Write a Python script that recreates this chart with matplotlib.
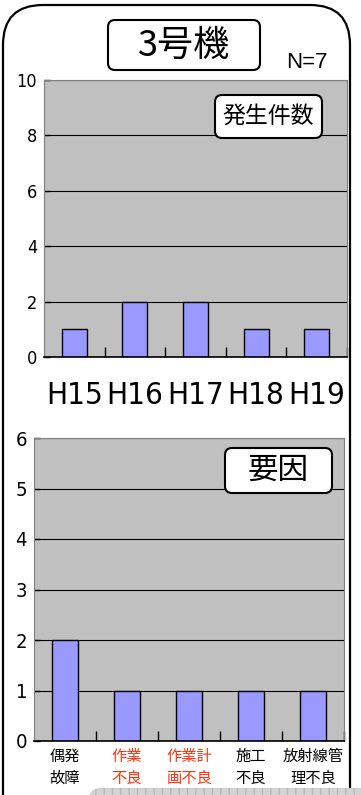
import matplotlib
matplotlib.use("Agg")
import matplotlib.pyplot as plt
from matplotlib.patches import FancyBboxPatch
import numpy as np

plt.rcParams['font.family'] = ['Noto Sans CJK JP', 'DejaVu Sans']

W, H = 361, 795

years = ["H15", "H16", "H17", "H18", "H19"]
counts = [1, 2, 2, 1, 1]

causes = ["偶発\n故障", "作業\n不良", "作業計\n画不良", "施工\n不良", "放射線管\n理不良"]
cause_counts = [2, 1, 1, 1, 1]
cause_colors = ["black", "#ff3311", "#ff3311", "black", "black"]

BAR = "#9999ff"
BG = "#c0c0c0"
NARROW = dict(family="DejaVu Sans", stretch="condensed")


def px_axes(fig, left, top, right, bottom):
    return fig.add_axes([left / W, 1 - bottom / H, (right - left) / W, (bottom - top) / H])


def style_bars(ax, n, ymax, step, ysize, ypad):
    ax.set_facecolor(BG)
    ax.set_xlim(-0.5, n - 0.5)
    ax.set_ylim(0, ymax)
    ax.set_yticks(np.arange(0, ymax + 1, step))
    ax.yaxis.grid(True, color="black", linewidth=0.8)
    ax.set_axisbelow(True)
    for s in ("left", "top", "right"):
        ax.spines[s].set_color("#808080")
        ax.spines[s].set_linewidth(0.8)
    ax.spines["bottom"].set_linewidth(1.2)
    ax.set_xticks(np.arange(n))
    ax.set_xticks(np.arange(n) + 0.5, minor=True)
    ax.tick_params(axis="x", which="major", length=0)
    ax.tick_params(axis="x", which="minor", direction="in", length=7, width=1)
    ax.tick_params(axis="y", direction="in", length=4, width=1, pad=ypad)
    for lab in ax.get_yticklabels():
        lab.set(**NARROW)
        lab.set_fontsize(ysize)


fig = plt.figure(figsize=(W / 100, H / 100), dpi=100)

# occurrences per year
ax1 = px_axes(fig, 44, 80, 347, 357)
ax1.bar(np.arange(len(years)), counts, width=0.41, color=BAR, edgecolor="black", linewidth=1)
style_bars(ax1, len(years), 10, 2, 13, 5)
ax1.set_xticklabels(years, fontsize=22.5, **NARROW)
ax1.tick_params(axis="x", which="major", pad=17)

# occurrences per cause
ax2 = px_axes(fig, 34, 438, 344, 741)
ax2.bar(np.arange(len(causes)), cause_counts, width=0.41, color=BAR, edgecolor="black", linewidth=1)
style_bars(ax2, len(causes), 6, 1, 14.5, 5)
ax2.set_xticklabels(causes, fontsize=11, linespacing=1.35)
ax2.tick_params(axis="x", which="major", pad=5)
for lab, c in zip(ax2.get_xticklabels(), cause_colors):
    lab.set_color(c)

# overlay in pixel units for frame and captions
ov = fig.add_axes([0, 0, 1, 1])
ov.set_xlim(0, W)
ov.set_ylim(0, H)
ov.axis("off")
ov.patch.set_alpha(0)


def box(x0, y0, x1, y1, r, lw, fc="white", ec="black", **kw):
    p = FancyBboxPatch((x0, H - y1), x1 - x0, y1 - y0,
                       boxstyle=f"round,pad=0,rounding_size={r}",
                       facecolor=fc, edgecolor=ec, linewidth=lw, **kw)
    ov.add_patch(p)
    return p


box(3, 5, 350, 900, 40, 1.6, fc="none")
box(88, 788, 420, 820, 14, 0, fc="#d4d4d4", ec="#b8b8b8", hatch="++")

box(108, 20, 260, 70, 7, 1.5)
ov.text(184, H - 46, "3号機", fontsize=26, ha="center", va="center")
ov.text(307, H - 62, "N=7", fontsize=16, ha="center", va="center", family="Liberation Sans")

box(215, 95, 322, 138, 7, 1.5)
ov.text(268.5, H - 116, "発生件数", fontsize=16.5, ha="center", va="center")

box(225, 448, 332, 493, 7, 1.5)
ov.text(278.5, H - 470, "要因", fontsize=22, ha="center", va="center")

fig.savefig("out.png", dpi=100)
